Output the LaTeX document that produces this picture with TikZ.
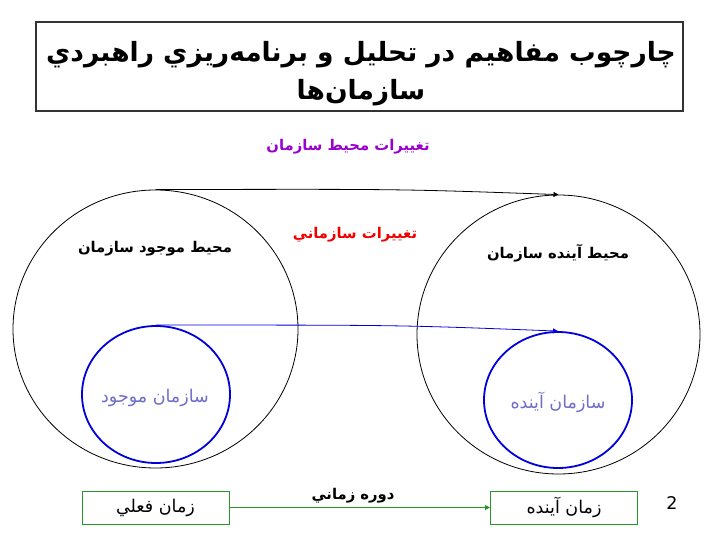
\documentclass[tikz,border=0pt]{standalone}
\usepackage{fontspec}
\setmainfont{DejaVu Sans}
\newfontfamily\arabicfont[Script=Arabic]{DejaVu Sans}
\TeXXeTstate=1
\usetikzlibrary{positioning,arrows.meta,shapes.geometric}
\definecolor{envpurple}{RGB}{153,0,204}
\definecolor{softred}{RGB}{240,0,0}
\definecolor{orgblue}{RGB}{0,0,220}
\definecolor{orgtext}{RGB}{110,110,200}
\definecolor{timegreen}{RGB}{40,150,40}
\newcommand{\fatext}[1]{\arabicfont\beginR #1\endR}

\begin{document}
\begin{tikzpicture}[x=1pt,y=-1pt,
  env/.style={ellipse,draw,line width=0.8pt,inner sep=0pt},
  org/.style={ellipse,draw=orgblue,line width=1.8pt,inner sep=0pt},
  timebox/.style={draw=timegreen,line width=1pt,minimum width=147pt,minimum height=33pt,inner sep=0pt,font=\fontsize{17.5}{20}\selectfont},
  label/.style={font=\fontsize{14.8}{17}\selectfont\bfseries,inner sep=0pt},
  plain/.style={font=\fontsize{17.5}{20}\selectfont,inner sep=0pt},
  tip/.style={-{Triangle[length=5pt,width=5pt]}}]
\useasboundingbox (0,0) rectangle (720,540);

% Title
\node[draw=black!80,line width=1.2pt,minimum width=647pt,minimum height=89pt] (title) at (359.5,66.5) {};
\node[align=center,inner sep=0pt,font=\fontsize{26.5}{38}\selectfont\bfseries] (titletext) at (361,74)
  {\fatext{چارچوب مفاهيم در تحليل و برنامه‌ريزي راهبردي}\\ \fatext{سازمان‌ها}};
\node[label,text=envpurple] (envchange) at (348,147) {\fatext{تغييرات محيط سازمان}};

% Present environment
\node[env,minimum width=285pt,minimum height=278pt] (envL) at (155.5,329) {};
\node[org,minimum width=148pt,minimum height=137pt] (orgL) at (156,394.5) {};
\node[label] (envLtext) at (155,249) {\fatext{محيط موجود سازمان}};
\node[plain,text=orgtext] (orgLtext) at (155,398) {\fatext{سازمان موجود}};

% Future environment
\node[env,minimum width=283pt,minimum height=279pt] (envR) at (558.5,334.5) {};
\node[org,minimum width=148pt,minimum height=136pt] (orgR) at (558,400) {};
\node[label] (envRtext) at (558,253) {\fatext{محيط آينده سازمان}};
\node[plain,text=orgtext] (orgRtext) at (558,402) {\fatext{سازمان آينده}};

\node[label,text=softred] (orgchange) at (355,235) {\fatext{تغييرات سازماني}};

\draw[tip,line width=0.8pt] (envL.north) .. controls (400,189) .. (envR.north);
\draw[tip,orgblue,line width=0.8pt] (orgL.north) .. controls (400,325) .. (orgR.north);

% Time line
\node[timebox] (now) at (155.5,507.5) {\fatext{زمان فعلي}};
\node[timebox] (later) at (564,507.5) {\fatext{زمان آينده}};
\draw[tip,timegreen,line width=1pt] (now) -- (later);
\node[label] (period) at (353,496) {\fatext{دوره زماني}};
\node[plain] (page) at (672,503) {2};
\end{tikzpicture}
\end{document}
